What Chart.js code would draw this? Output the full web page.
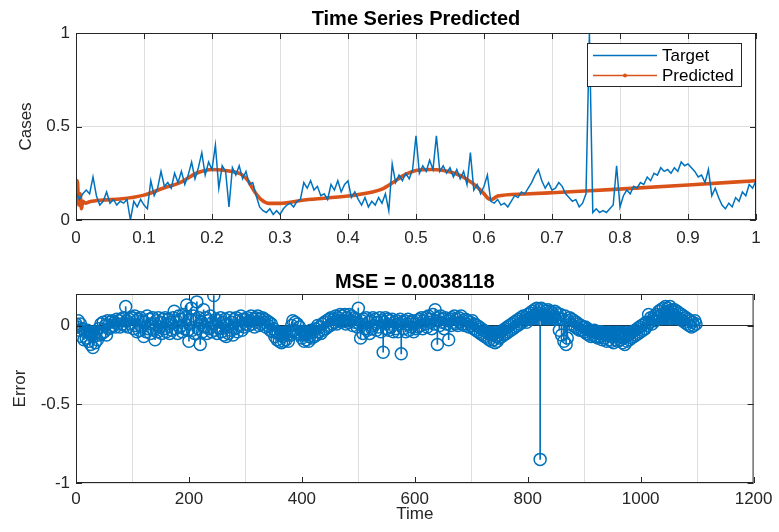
<!DOCTYPE html>
<html>
<head>
<meta charset="utf-8">
<title>Time Series Predicted</title>
<script src="https://cdn.jsdelivr.net/npm/chart.js@4.4.1/dist/chart.umd.min.js"></script>
<style>
  body { margin: 0; background: #fff; }
  #wrap { position: relative; width: 779px; height: 532px; }
  canvas { position: absolute; left: 0; }
  #seriesChart { top: 0; }
  #errorChart { top: 258px; }
</style>
</head>
<body>
<div id="wrap">
  <canvas id="seriesChart" width="779" height="256"></canvas>
  <canvas id="errorChart" width="779" height="274"></canvas>
</div>
<script>
// target series, one value every 0.005 of normalised time (0 .. 1)
const targetValues = [
  0.15, 0.11, 0.14, 0.16, 0.14, 0.23, 0.13, 0.08, 0.10, 0.15, 0.09, 0.11, 0.08, 0.10, 0.09, 0.11, 0.00, 0.10, 0.07, 0.11,
  0.08, 0.06, 0.21, 0.13, 0.17, 0.26, 0.18, 0.20, 0.17, 0.25, 0.20, 0.26, 0.19, 0.24, 0.31, 0.22, 0.28, 0.36, 0.24, 0.31,
  0.27, 0.40, 0.17, 0.29, 0.26, 0.07, 0.28, 0.24, 0.29, 0.22, 0.26, 0.19, 0.20, 0.13, 0.07, 0.05, 0.04, 0.06, 0.03, 0.05,
  0.03, 0.06, 0.08, 0.09, 0.07, 0.10, 0.11, 0.20, 0.17, 0.21, 0.16, 0.18, 0.13, 0.14, 0.11, 0.19, 0.16, 0.21, 0.15, 0.19,
  0.21, 0.12, 0.15, 0.11, 0.08, 0.12, 0.07, 0.10, 0.08, 0.12, 0.09, 0.14, 0.05, 0.30, 0.20, 0.24, 0.21, 0.25, 0.22, 0.27,
  0.45, 0.25, 0.29, 0.26, 0.32, 0.27, 0.45, 0.26, 0.29, 0.25, 0.28, 0.23, 0.27, 0.22, 0.26, 0.19, 0.36, 0.16, 0.19, 0.14,
  0.18, 0.24, 0.10, 0.09, 0.11, 0.08, 0.09, 0.07, 0.10, 0.13, 0.12, 0.15, 0.14, 0.17, 0.20, 0.24, 0.27, 0.21, 0.17, 0.20,
  0.16, 0.17, 0.20, 0.18, 0.14, 0.12, 0.10, 0.11, 0.07, 0.09, 0.14, 1.00, 0.04, 0.06, 0.04, 0.05, 0.04, 0.06, 0.08, 0.29,
  0.07, 0.13, 0.16, 0.14, 0.18, 0.17, 0.20, 0.19, 0.23, 0.21, 0.25, 0.24, 0.28, 0.26, 0.27, 0.25, 0.28, 0.26, 0.31, 0.29,
  0.30, 0.28, 0.26, 0.23, 0.24, 0.20, 0.27, 0.13, 0.17, 0.12, 0.08, 0.06, 0.09, 0.07, 0.12, 0.10, 0.15, 0.13, 0.19, 0.17,
  0.21
];

// network output
const predictedTime = [
  0, 0.002, 0.004, 0.006, 0.008, 0.010, 0.014, 0.020, 0.040, 0.065,
  0.100, 0.128, 0.153, 0.177, 0.190, 0.200, 0.215, 0.235, 0.245, 0.253,
  0.263, 0.273, 0.283, 0.300, 0.336, 0.400, 0.436, 0.450, 0.466, 0.480,
  0.500, 0.524, 0.548, 0.567, 0.582, 0.592, 0.600, 0.606, 0.611, 0.620,
  0.660, 0.700, 0.748, 0.792, 0.900, 1.000
];
const predictedValues = [
  0.10, 0.21, 0.08, 0.14, 0.06, 0.10, 0.09, 0.098, 0.107, 0.112,
  0.133, 0.17, 0.20, 0.25, 0.265, 0.27, 0.267, 0.255, 0.24, 0.21,
  0.15, 0.107, 0.089, 0.089, 0.107, 0.128, 0.15, 0.165, 0.20, 0.235,
  0.265, 0.27, 0.26, 0.235, 0.20, 0.17, 0.14, 0.115, 0.11, 0.128,
  0.139, 0.146, 0.155, 0.164, 0.187, 0.21
];

// error per sample, every 2nd sample (0 .. 1098), one row per 100 samples
const errorStep = 2;
const errorValues = [
  0.01, -0.01, 0.03, -0.03, 0.01, -0.07, -0.02, -0.09, -0.04, -0.08, -0.03, -0.10, -0.05, -0.12, -0.06, -0.14, -0.07, -0.11, -0.04, -0.09,
  -0.02, -0.06, 0.01, -0.05, 0.02, -0.04, 0.00, -0.06, 0.03, -0.02, 0.02, -0.01, 0.03, 0.00, 0.02, -0.01, 0.04, 0.01, 0.03, -0.01,
  0.04, 0.01, 0.05, 0.00, 0.12, 0.03, -0.01, 0.04, 0.01, 0.05,

  0.05, -0.02, 0.06, 0.00, -0.04, 0.04, -0.03, 0.05, -0.01, 0.03, -0.07, 0.02, -0.04, 0.06, -0.02, 0.04, -0.05, 0.01, 0.05, -0.03,
  -0.09, 0.03, -0.04, 0.05, -0.01, 0.02, -0.05, 0.04, -0.02, 0.05, -0.04, 0.01, 0.04, -0.05, 0.02, -0.03, 0.05, 0.09, -0.02, 0.03,
  -0.05, 0.06, -0.01, 0.04, -0.04, 0.07, -0.02, 0.05, 0.13, -0.03,

  -0.10, 0.04, 0.11, -0.03, 0.06, -0.05, 0.03, 0.15, -0.02, 0.05, -0.12, 0.02, -0.04, 0.10, -0.01, 0.05, -0.05, 0.03, -0.02, 0.06,
  -0.04, 0.02, 0.19, -0.03, 0.04, -0.05, 0.03, -0.02, 0.05, -0.04, 0.02, -0.06, 0.04, -0.07, 0.01, -0.05, 0.05, -0.03, 0.02, -0.06,
  0.04, -0.02, 0.05, -0.04, 0.03, 0.00, 0.06, -0.03, 0.04, -0.01,

  0.04, 0.01, 0.05, 0.00, 0.03, 0.06, 0.01, 0.04, -0.01, 0.05, 0.02, 0.06, 0.00, 0.04, 0.01, 0.05, 0.02, 0.04, -0.01, 0.03,
  0.00, 0.02, -0.03, 0.01, -0.04, -0.02, -0.07, -0.04, -0.09, -0.05, -0.10, -0.06, -0.11, -0.07, -0.10, -0.05, -0.09, -0.06, -0.10, -0.04,
  -0.06, 0.00, 0.03, -0.03, 0.02, -0.04, 0.01, -0.05, -0.01, -0.06,

  -0.08, -0.04, -0.10, -0.06, -0.09, -0.05, -0.10, -0.07, -0.03, -0.08, -0.04, -0.07, -0.02, -0.06, 0.00, -0.04, -0.01, -0.05, 0.01, -0.03,
  0.02, -0.02, 0.03, -0.01, 0.04, 0.00, 0.05, 0.01, 0.04, 0.02, 0.06, 0.01, 0.05, 0.03, 0.07, 0.02, 0.06, 0.03, 0.07, 0.01,
  0.05, 0.02, 0.07, 0.03, 0.06, 0.00, 0.05, 0.02, 0.04, -0.01,

  0.11, 0.01, -0.08, 0.03, -0.05, 0.04, -0.02, 0.05, -0.03, 0.02, -0.05, 0.03, -0.02, 0.05, 0.00, 0.04, -0.03, 0.02, -0.01, 0.05,
  -0.04, 0.03, -0.17, 0.02, 0.05, -0.02, 0.04, -0.03, 0.03, -0.01, 0.04, -0.04, 0.02, -0.02, 0.03, -0.04, 0.01, 0.04, -0.18, 0.02,
  -0.02, 0.03, -0.04, 0.01, 0.04, -0.03, 0.02, -0.01, 0.03, -0.04,

  0.01, -0.02, 0.03, -0.01, 0.04, 0.00, 0.05, -0.02, 0.03, 0.01, 0.05, -0.01, 0.06, 0.02, 0.04, -0.02, 0.07, 0.01, 0.10, 0.03,
  -0.12, 0.05, 0.00, 0.06, 0.02, 0.04, -0.02, 0.05, 0.01, 0.03, -0.09, 0.04, 0.00, 0.05, 0.02, 0.06, 0.01, 0.04, 0.00, 0.05,
  0.02, 0.06, 0.01, 0.03, 0.00, 0.04, 0.01, 0.03, -0.01, 0.02,

  0.00, 0.03, -0.02, 0.01, -0.03, 0.00, -0.04, -0.01, -0.05, -0.02, -0.06, -0.03, -0.07, -0.04, -0.08, -0.05, -0.09, -0.05, -0.10, -0.06,
  -0.09, -0.11, -0.07, -0.10, -0.06, -0.08, -0.04, -0.07, -0.03, -0.06, -0.02, -0.05, -0.01, -0.04, 0.00, -0.03, 0.01, -0.02, 0.02, -0.01,
  0.03, 0.00, 0.04, 0.01, 0.05, 0.02, 0.06, 0.03, 0.05, 0.02,

  0.07, 0.04, 0.08, 0.05, 0.09, 0.06, 0.10, 0.07, 0.11, 0.08, 0.10, -0.85, 0.11, 0.07, 0.10, 0.06, 0.09, 0.05, 0.10, 0.07,
  0.09, 0.05, 0.08, 0.06, 0.09, 0.04, 0.08, 0.05, -0.03, 0.07, -0.06, 0.04, -0.10, 0.06, -0.12, -0.08, 0.03, 0.05, 0.01, 0.04,
  0.00, 0.03, -0.01, 0.02, -0.02, 0.01, -0.03, 0.00, -0.03, -0.01,

  -0.04, -0.01, -0.05, -0.02, -0.06, -0.03, -0.07, -0.04, -0.06, -0.03, -0.07, -0.04, -0.08, -0.05, -0.07, -0.04, -0.09, -0.05, -0.08, -0.06,
  -0.10, -0.06, -0.09, -0.05, -0.10, -0.07, -0.11, -0.06, -0.09, -0.05, -0.10, -0.07, -0.09, -0.05, -0.11, -0.08, -0.12, -0.07, -0.10, -0.06,
  -0.09, -0.05, -0.08, -0.04, -0.07, -0.03, -0.06, -0.02, -0.05, -0.01,

  -0.04, 0.00, -0.03, 0.01, -0.02, 0.02, 0.00, 0.07, 0.02, 0.05, 0.01, 0.04, 0.06, 0.03, 0.07, 0.05, 0.09, 0.06, 0.10, 0.07,
  0.11, 0.08, 0.12, 0.09, 0.11, 0.08, 0.12, 0.09, 0.10, 0.07, 0.10, 0.06, 0.09, 0.05, 0.08, 0.04, 0.07, 0.03, 0.06, 0.02,
  0.05, 0.01, 0.04, 0.00, 0.03, -0.01, 0.02, 0.00, 0.03, 0.01
];
const mseText = 'MSE = 0.0038118';

// tick positions
const seriesXTicks = [0, 0.1, 0.2, 0.3, 0.4, 0.5, 0.6, 0.7, 0.8, 0.9, 1];
const seriesYTicks = [0, 0.5, 1];
const errorXTicks = [0, 200, 400, 600, 800, 1000, 1200];
const errorYTicks = [-1, -0.5, 0];

const BLUE = '#0072BD';
const ORANGE = '#D95319';
const AXIS = '#262626';
const GRID = '#dedede';
const FONT = "'Liberation Sans', Arial, sans-serif";

// box around the plot area with short inward tick marks
const axesBox = {
  id: 'axesBox',
  afterDatasetsDraw(chart) {
    const { ctx, chartArea: a, scales } = chart;
    ctx.save();
    ctx.strokeStyle = AXIS;
    ctx.lineWidth = 1;
    ctx.strokeRect(a.left + 0.5, a.top + 0.5, a.width - 1, a.height - 1);
    ctx.beginPath();
    scales.x.ticks.forEach(t => {
      const px = Math.round(scales.x.getPixelForValue(t.value)) + 0.5;
      ctx.moveTo(px, a.bottom); ctx.lineTo(px, a.bottom - 6);
      ctx.moveTo(px, a.top); ctx.lineTo(px, a.top + 6);
    });
    scales.y.ticks.forEach(t => {
      const py = Math.round(scales.y.getPixelForValue(t.value)) + 0.5;
      ctx.moveTo(a.left, py); ctx.lineTo(a.left + 6, py);
      ctx.moveTo(a.right, py); ctx.lineTo(a.right - 6, py);
    });
    ctx.stroke();
    ctx.restore();
  }
};

// legend in a box, top right inside the plot
const boxLegend = {
  id: 'boxLegend',
  afterDraw(chart) {
    const { ctx, chartArea: a } = chart;
    const w = 154, h = 43;
    const left = a.right - 15 - w, top = a.top + 10;
    ctx.save();
    ctx.fillStyle = '#fff';
    ctx.fillRect(left, top, w, h);
    ctx.strokeStyle = AXIS;
    ctx.lineWidth = 1;
    ctx.strokeRect(left + 0.5, top + 0.5, w, h);
    ctx.font = '17px ' + FONT;
    ctx.textBaseline = 'middle';
    chart.data.datasets.forEach((ds, i) => {
      const y = top + 12.5 + i * 20;
      ctx.strokeStyle = ds.borderColor;
      ctx.lineWidth = 1.4;
      ctx.beginPath();
      ctx.moveTo(left + 6, y);
      ctx.lineTo(left + 70, y);
      ctx.stroke();
      if (ds.label === 'Predicted') {
        ctx.fillStyle = ds.borderColor;
        ctx.beginPath();
        ctx.arc(left + 38, y, 2, 0, Math.PI * 2);
        ctx.fill();
      }
      ctx.fillStyle = '#000';
      ctx.fillText(ds.label, left + 75, y + 1);
    });
    ctx.restore();
  }
};

function axis(ticks, fmt) {
  return {
    type: 'linear',
    min: ticks[0],
    afterBuildTicks: s => { s.ticks = ticks.map(v => ({ value: v })); },
    border: { display: false },
    grid: { color: GRID, drawTicks: false },
    ticks: {
      color: AXIS,
      font: { family: FONT, size: 17 },
      autoSkip: false,
      maxRotation: 0,
      callback: fmt || (v => String(v))
    }
  };
}

// top: target vs predicted
const sx = axis(seriesXTicks);
sx.max = 1;
sx.ticks.padding = 8;
sx.afterFit = s => { s.height = 36; };
const sy = axis(seriesYTicks);
sy.max = 1;
sy.ticks.padding = 6;
sy.afterFit = s => { s.width = 76; };
sy.title = { display: true, text: 'Cases', color: AXIS, font: { family: FONT, size: 17 }, padding: { top: 15.8, bottom: 0 } };

new Chart(document.getElementById('seriesChart'), {
  type: 'line',
  data: {
    datasets: [
      {
        label: 'Target',
        data: targetValues.map((v, i) => ({ x: i / (targetValues.length - 1), y: v })),
        borderColor: BLUE,
        borderWidth: 1.5,
        pointRadius: 0,
        tension: 0
      },
      {
        label: 'Predicted',
        data: predictedTime.map((t, i) => ({ x: t, y: predictedValues[i] })),
        borderColor: ORANGE,
        borderWidth: 3.6,
        pointRadius: 0,
        cubicInterpolationMode: 'monotone'
      }
    ]
  },
  options: {
    responsive: false,
    animation: false,
    events: [],
    layout: { padding: { left: 0, right: 23, top: 0, bottom: 0 } },
    plugins: {
      legend: { display: false },
      tooltip: { enabled: false },
      title: {
        display: true,
        text: 'Time Series Predicted',
        fullSize: false,
        color: '#000',
        font: { family: FONT, size: 20, weight: 'bold' },
        padding: { top: 7, bottom: 2 }
      }
    },
    scales: { x: sx, y: sy }
  },
  plugins: [axesBox, boxLegend]
});

// bottom: stem plot of the error
const ex = axis(errorXTicks);
ex.max = 1200;
ex.offset = false;
ex.ticks.padding = 6.5;
ex.afterFit = s => { s.height = 49; };
ex.title = { display: true, text: 'Time', color: AXIS, font: { family: FONT, size: 17 }, padding: { top: 0, bottom: 7.8 } };
const ey = axis(errorYTicks);
ey.max = 0.2;
ey.ticks.padding = 6;
ey.grid.color = c => (c.tick && c.tick.value === 0 ? AXIS : GRID);
ey.afterFit = s => { s.width = 76; };
ey.title = { display: true, text: 'Error', color: AXIS, font: { family: FONT, size: 17 }, padding: { top: 10.3, bottom: 0 } };

const errorPoints = errorValues.map((v, i) => ({ x: i * errorStep, y: v }));

new Chart(document.getElementById('errorChart'), {
  type: 'scatter',
  data: {
    datasets: [
      {
        type: 'bar',
        label: 'stem',
        data: errorPoints,
        backgroundColor: BLUE,
        barThickness: 1,
        order: 2
      },
      {
        type: 'scatter',
        label: 'Error',
        data: errorPoints,
        borderColor: BLUE,
        backgroundColor: 'rgba(0,0,0,0)',
        borderWidth: 1.5,
        pointRadius: 6,
        pointStyle: 'circle',
        order: 1
      }
    ]
  },
  options: {
    responsive: false,
    animation: false,
    events: [],
    layout: { padding: { left: 0, right: 23, top: 0, bottom: 0 } },
    plugins: {
      legend: { display: false },
      tooltip: { enabled: false },
      title: {
        display: true,
        text: mseText,
        fullSize: false,
        color: '#000',
        font: { family: FONT, size: 20, weight: 'bold' },
        padding: { top: 12, bottom: 0 }
      }
    },
    scales: { x: ex, y: ey }
  },
  plugins: [axesBox]
});
</script>
</body>
</html>
